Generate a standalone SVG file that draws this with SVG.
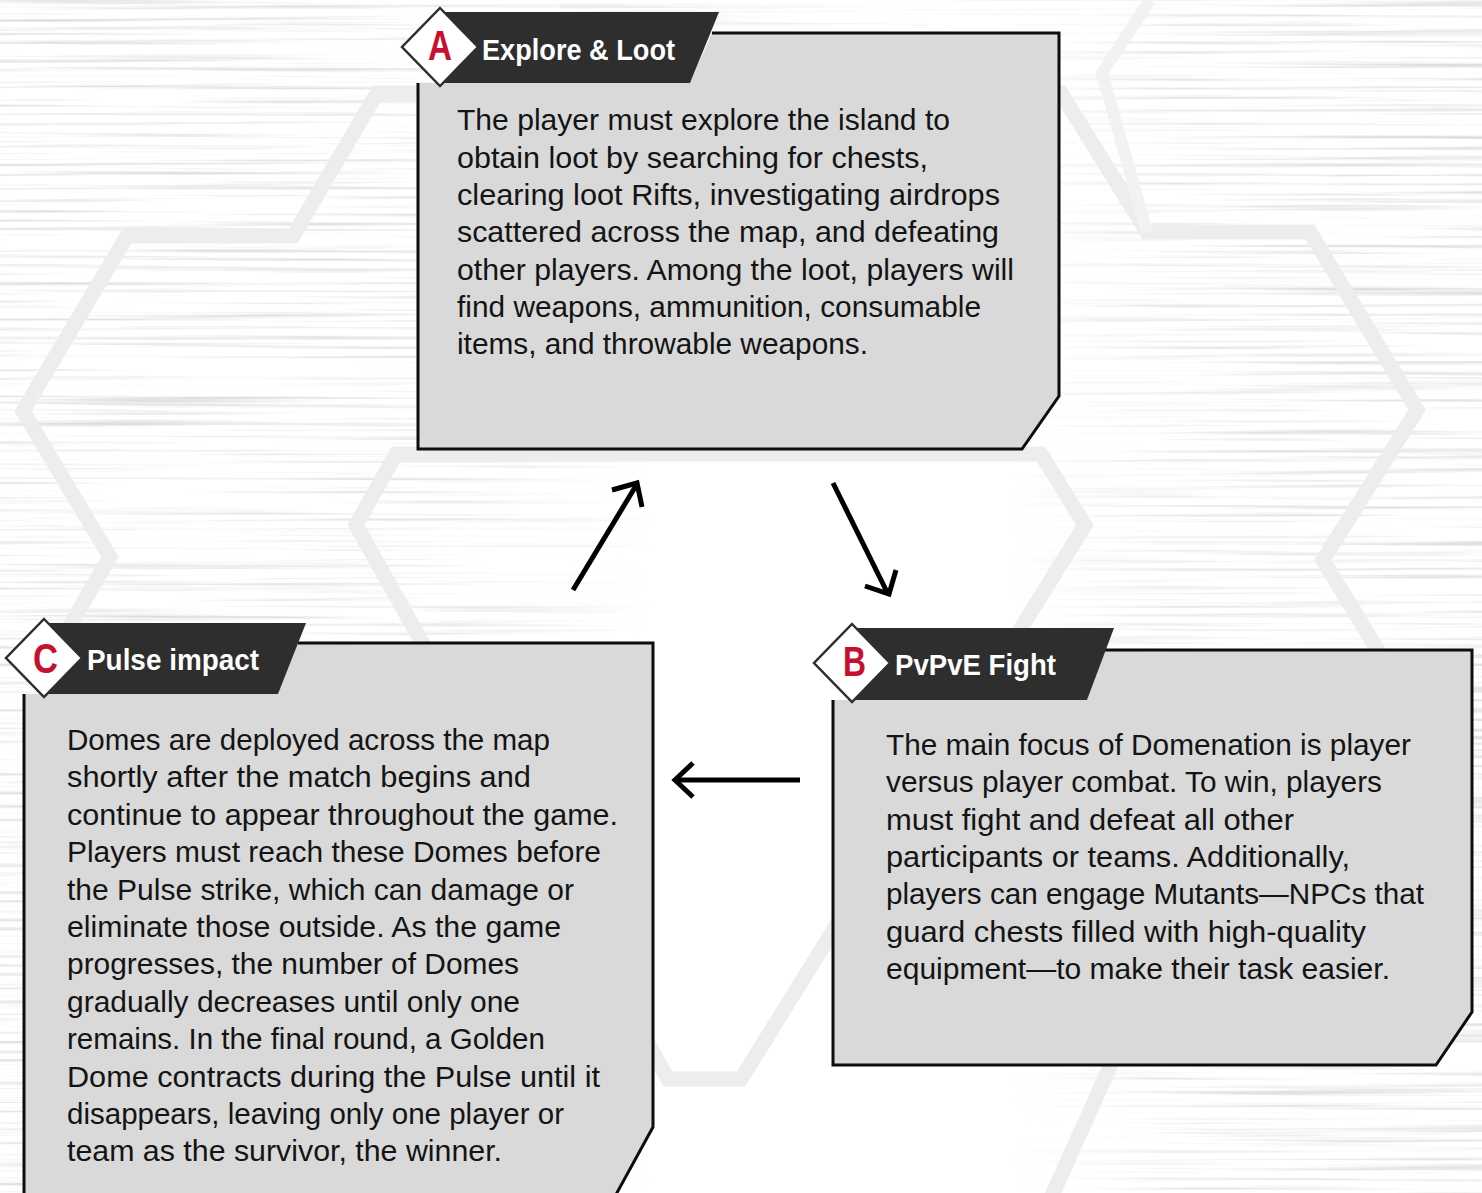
<svg xmlns="http://www.w3.org/2000/svg" width="1482" height="1193" viewBox="0 0 1482 1193">
  <defs>
    <style>
      .hex { fill: none; stroke: #ededed; stroke-width: 15; stroke-linejoin: miter; }
      .hex-faint { fill: none; stroke: #f2f2f2; stroke-width: 12; }
      .box { fill: #d9d9d9; }
      .edge { fill: none; stroke: #0d0d0d; stroke-width: 3; stroke-linejoin: miter; }
      .banner { fill: #2e2e2e; }
      .badge { fill: #ffffff; stroke: #2e2e2e; stroke-width: 2.5; }
      .letter { font-family: "Liberation Sans", Arial, sans-serif; font-weight: bold; font-size: 42px; fill: #c8102e; }
      .title { font-family: "Liberation Sans", Arial, sans-serif; font-weight: bold; font-size: 29px; fill: #ffffff; }
      .body { font-family: "Liberation Sans", Arial, sans-serif; font-size: 29px; fill: #141414; }
      .arrow { fill: none; stroke: #000000; stroke-width: 5; stroke-linejoin: miter; stroke-linecap: butt; }
    </style>
    <filter id="streaks" x="0" y="0" width="100%" height="100%" color-interpolation-filters="sRGB">
      <feTurbulence type="fractalNoise" baseFrequency="0.0025 0.22" numOctaves="3" seed="11"/>
      <feColorMatrix type="matrix" values="0 0 0 0 0.84  0 0 0 0 0.84  0 0 0 0 0.84  2.6 0 0 0 -1.3"/>
    </filter>
    <linearGradient id="sideFade" x1="0" y1="0" x2="1" y2="0">
      <stop offset="0" stop-color="#fff" stop-opacity="1"/>
      <stop offset="0.3" stop-color="#fff" stop-opacity="0.8"/>
      <stop offset="0.44" stop-color="#fff" stop-opacity="0"/>
      <stop offset="0.68" stop-color="#fff" stop-opacity="0"/>
      <stop offset="0.8" stop-color="#fff" stop-opacity="0.8"/>
      <stop offset="1" stop-color="#fff" stop-opacity="1"/>
    </linearGradient>
    <mask id="sideMask" maskUnits="userSpaceOnUse" x="0" y="0" width="1482" height="1193">
      <rect x="0" y="0" width="1482" height="1193" fill="url(#sideFade)"/>
      <rect x="560" y="0" width="520" height="40" fill="#fff" fill-opacity="0.6"/>
    </mask>
  </defs>

  <!-- backdrop: white sheet with brushed streaks towards the sides -->
  <rect x="0" y="0" width="1482" height="1193" fill="#ffffff"/>
  <rect x="0" y="0" width="1482" height="1193" fill="#ffffff" filter="url(#streaks)" mask="url(#sideMask)"/>

  <!-- honeycomb outlines behind the cards -->
  <g id="honeycomb">
    <polyline class="hex" points="460,93 377,93 293,236 127,236 23,411 110,557 38,680"/>
    <polyline class="hex" points="1000,93 1061,93 1147,232 1310,232 1417,410 1323,560 1402,690"/>
    <polygon class="hex" points="396,454 1041,454 1085,525 741,1079 668,1079 356,525"/>
    <polyline class="hex-faint" points="1150,0 1102,73 1147,232"/>
    <line class="hex" x1="1122" y1="1040" x2="1050" y2="1200"/>
  </g>

  <!-- connectors -->
  <g id="connectors">
    <path class="arrow" d="M573,590 L637,484"/>
    <path class="arrow" d="M612,490 L637,483 L642,507"/>
    <path class="arrow" d="M833,483 L887,592"/>
    <path class="arrow" d="M865,586 L889,594 L896,570"/>
    <path class="arrow" d="M800,780 L676,780"/>
    <path class="arrow" d="M693,763 L675,780 L693,797"/>
  </g>

  <!-- A: Explore & Loot -->
  <g id="node-a">
    <polygon class="box" points="418,83 418,449 1022,449 1059,396 1059,33 712,33 690,83"/>
    <path class="edge" d="M418,83 V449 H1022 L1059,396 V33 H712"/>
    <polygon class="banner" points="440,12 719,12 690,83 440,83"/>
    <polygon class="badge" points="440,8 478,47 440,86 402,47"/>
    <text class="letter" x="428" y="60" textLength="24" lengthAdjust="spacingAndGlyphs">A</text>
    <text class="title" x="482" y="60" textLength="193" lengthAdjust="spacingAndGlyphs">Explore &amp; Loot</text>
    <text class="body" x="457" y="130" textLength="493" lengthAdjust="spacingAndGlyphs">The player must explore the island to</text>
    <text class="body" x="457" y="167.5" textLength="471" lengthAdjust="spacingAndGlyphs">obtain loot by searching for chests,</text>
    <text class="body" x="457" y="205" textLength="543" lengthAdjust="spacingAndGlyphs">clearing loot Rifts, investigating airdrops</text>
    <text class="body" x="457" y="242" textLength="542" lengthAdjust="spacingAndGlyphs">scattered across the map, and defeating</text>
    <text class="body" x="457" y="279.5" textLength="557" lengthAdjust="spacingAndGlyphs">other players. Among the loot, players will</text>
    <text class="body" x="457" y="317" textLength="524" lengthAdjust="spacingAndGlyphs">find weapons, ammunition, consumable</text>
    <text class="body" x="457" y="354" textLength="411" lengthAdjust="spacingAndGlyphs">items, and throwable weapons.</text>
  </g>

  <!-- B: PvPvE Fight -->
  <g id="node-b">
    <polygon class="box" points="833,700 833,1065 1436,1065 1472,1012 1472,650 1105,650 1087,700"/>
    <path class="edge" d="M833,700 V1065 H1436 L1472,1012 V650 H1105"/>
    <polygon class="banner" points="852,628 1114,628 1087,700 852,700"/>
    <polygon class="badge" points="852,624 890,663 852,702 814,663"/>
    <text class="letter" x="843" y="676" textLength="23" lengthAdjust="spacingAndGlyphs">B</text>
    <text class="title" x="895" y="675" textLength="161" lengthAdjust="spacingAndGlyphs">PvPvE Fight</text>
    <text class="body" x="886" y="755" textLength="525" lengthAdjust="spacingAndGlyphs">The main focus of Domenation is player</text>
    <text class="body" x="886" y="792.3" textLength="496" lengthAdjust="spacingAndGlyphs">versus player combat. To win, players</text>
    <text class="body" x="886" y="829.6" textLength="408" lengthAdjust="spacingAndGlyphs">must fight and defeat all other</text>
    <text class="body" x="886" y="866.9" textLength="464" lengthAdjust="spacingAndGlyphs">participants or teams. Additionally,</text>
    <text class="body" x="886" y="904.2" textLength="538" lengthAdjust="spacingAndGlyphs">players can engage Mutants—NPCs that</text>
    <text class="body" x="886" y="941.5" textLength="480" lengthAdjust="spacingAndGlyphs">guard chests filled with high-quality</text>
    <text class="body" x="886" y="978.8" textLength="504" lengthAdjust="spacingAndGlyphs">equipment—to make their task easier.</text>
  </g>

  <!-- C: Pulse impact -->
  <g id="node-c">
    <polygon class="box" points="24,694 24,1200 613,1200 653,1127 653,643 298,643 278,694"/>
    <path class="edge" d="M24,694 V1200 M613,1200 L653,1127 V643 H298"/>
    <polygon class="banner" points="44,623 306,623 278,694 44,694"/>
    <polygon class="badge" points="44,619 82,658 44,697 6,658"/>
    <text class="letter" x="33" y="673" textLength="25" lengthAdjust="spacingAndGlyphs">C</text>
    <text class="title" x="87" y="670" textLength="172" lengthAdjust="spacingAndGlyphs">Pulse impact</text>
    <text class="body" x="67" y="750" textLength="483" lengthAdjust="spacingAndGlyphs">Domes are deployed across the map</text>
    <text class="body" x="67" y="787.4" textLength="464" lengthAdjust="spacingAndGlyphs">shortly after the match begins and</text>
    <text class="body" x="67" y="824.8" textLength="551" lengthAdjust="spacingAndGlyphs">continue to appear throughout the game.</text>
    <text class="body" x="67" y="862.2" textLength="534" lengthAdjust="spacingAndGlyphs">Players must reach these Domes before</text>
    <text class="body" x="67" y="899.6" textLength="507" lengthAdjust="spacingAndGlyphs">the Pulse strike, which can damage or</text>
    <text class="body" x="67" y="937" textLength="494" lengthAdjust="spacingAndGlyphs">eliminate those outside. As the game</text>
    <text class="body" x="67" y="974.4" textLength="452" lengthAdjust="spacingAndGlyphs">progresses, the number of Domes</text>
    <text class="body" x="67" y="1011.8" textLength="453" lengthAdjust="spacingAndGlyphs">gradually decreases until only one</text>
    <text class="body" x="67" y="1049.2" textLength="478" lengthAdjust="spacingAndGlyphs">remains. In the final round, a Golden</text>
    <text class="body" x="67" y="1086.6" textLength="533" lengthAdjust="spacingAndGlyphs">Dome contracts during the Pulse until it</text>
    <text class="body" x="67" y="1124" textLength="497" lengthAdjust="spacingAndGlyphs">disappears, leaving only one player or</text>
    <text class="body" x="67" y="1161.4" textLength="435" lengthAdjust="spacingAndGlyphs">team as the survivor, the winner.</text>
  </g>
</svg>
